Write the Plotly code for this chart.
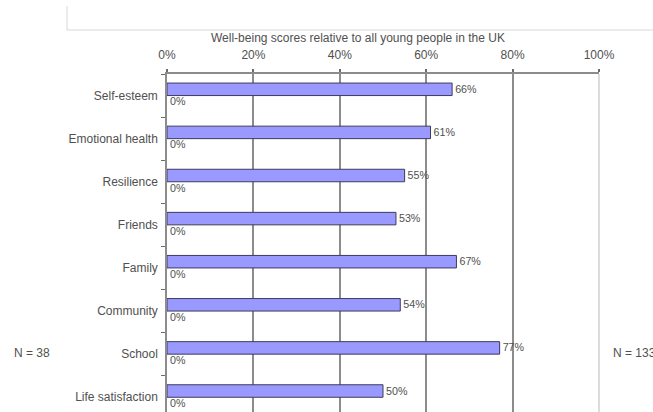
import plotly.graph_objects as go

categories = ["Self-esteem", "Emotional health", "Resilience", "Friends",
              "Family", "Community", "School", "Life satisfaction"]
scores = [0.66, 0.61, 0.55, 0.53, 0.67, 0.54, 0.77, 0.50]
zero_series = [0, 0, 0, 0, 0, 0, 0, 0]
x_ticks = [0, 0.2, 0.4, 0.6, 0.8, 1.0]
x_tick_labels = ["0%", "20%", "40%", "60%", "80%", "100%"]
title_text = "Well-being scores relative to all young people in the UK"
n_left = "N = 38"
n_right = "N = 133"

W, H = 653, 412
ML, MR, MT, MB = 167, 54, 74, 0
PW, PH = W - ML - MR, H - MT - MB
band = 43.1

def px_x(p):
    return (p - ML) / PW

def px_y(p):
    return (H - MB - p) / PH

FONT = "Liberation Sans, Arial, sans-serif"
TXT = "#505050"

fig = go.Figure()
fig.add_trace(go.Bar(
    y=categories, x=scores, orientation="h",
    marker=dict(color="#9999FF", line=dict(color="#3c3c5c", width=1)),
    text=[f"{round(v*100)}%" for v in scores], textposition="outside",
    textfont=dict(family=FONT, size=12, color=TXT), cliponaxis=False,
    hoverinfo="skip",
))
fig.add_trace(go.Bar(
    y=categories, x=zero_series, orientation="h",
    marker=dict(color="#9999FF", line=dict(color="#3c3c5c", width=0)),
    text=[f"{round(v*100)}%" for v in zero_series], textposition="outside",
    textfont=dict(family=FONT, size=12, color=TXT), cliponaxis=False,
    hoverinfo="skip",
))

y_top = -0.5
y_bot = -0.5 + PH / band

fig.update_layout(
    width=W, height=H,
    margin=dict(l=ML, r=MR, t=MT, b=MB, pad=0, autoexpand=False),
    paper_bgcolor="white", plot_bgcolor="white",
    barmode="group", bargap=0.42, bargroupgap=0.0,
    showlegend=False,
    font=dict(family=FONT, size=12, color=TXT),
    xaxis=dict(
        side="top", range=[0, 1], tickvals=x_ticks, ticktext=x_tick_labels,
        showgrid=True, gridcolor="#8c8c8c", gridwidth=1.5,
        showline=True, linecolor="#8c8c8c", linewidth=2,
        ticks="outside", ticklen=3, tickcolor="#6c6c6c", tickwidth=1.5,
        ticklabelstandoff=5, zeroline=False, automargin=False,
        tickfont=dict(family=FONT, size=12, color=TXT),
    ),
    yaxis=dict(
        type="category", categoryorder="array", categoryarray=categories,
        range=[y_bot, y_top], tickson="boundaries",
        ticks="outside", ticklen=4, tickcolor="#6c6c6c",
        showline=True, linecolor="#8c8c8c", linewidth=1.5,
        showgrid=False, zeroline=False, ticklabelstandoff=5, automargin=False,
        tickfont=dict(family=FONT, size=12, color=TXT),
    ),
    shapes=[
        dict(type="line", xref="paper", yref="paper", x0=1, x1=1, y0=0, y1=1,
             line=dict(color="#d0d0d0", width=1.5), layer="above"),
        dict(type="line", xref="paper", yref="paper",
             x0=px_x(67), x1=px_x(67), y0=px_y(6), y1=px_y(30),
             line=dict(color="#d8d8d8", width=1)),
        dict(type="line", xref="paper", yref="paper",
             x0=px_x(67), x1=px_x(660), y0=px_y(30), y1=px_y(30),
             line=dict(color="#d8d8d8", width=1)),
    ],
    annotations=[
        dict(text=title_text, xref="paper", yref="paper",
             x=px_x(358), y=px_y(38), xanchor="center", yanchor="middle",
             showarrow=False, font=dict(family=FONT, size=12, color=TXT)),
        dict(text=n_left, xref="paper", yref="paper",
             x=px_x(12), y=px_y(353), xanchor="left", yanchor="middle",
             showarrow=False, font=dict(family=FONT, size=12, color=TXT)),
        dict(text=n_right, xref="paper", yref="paper",
             x=px_x(611), y=px_y(353), xanchor="left", yanchor="middle",
             showarrow=False, font=dict(family=FONT, size=12, color=TXT)),
    ],
)

fig.write_html("out.html", config={"displayModeBar": False},
               post_script="document.body.style.margin='0';document.body.style.padding='0';")
